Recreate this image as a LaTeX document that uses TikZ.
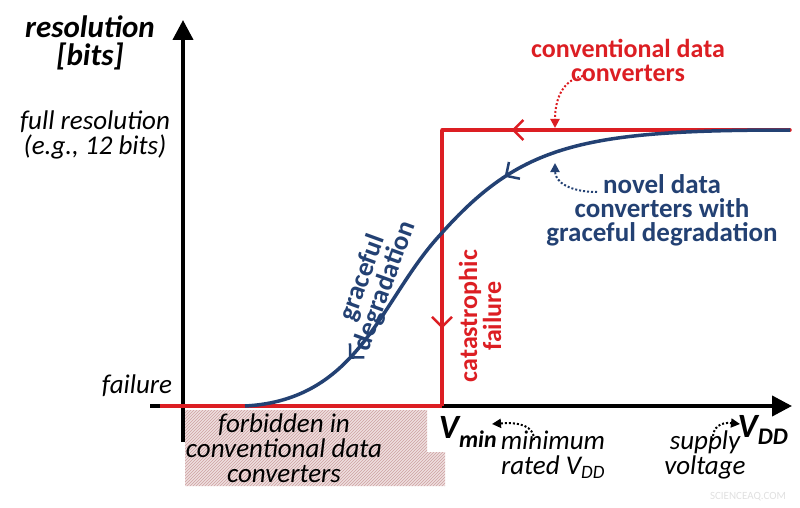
\documentclass[tikz,border=0pt]{standalone}
\usepackage{fontspec}
\setmainfont{Carlito}
\usetikzlibrary{arrows.meta,patterns,decorations.markings}
\definecolor{cred}{RGB}{220,30,35}
\definecolor{cblue}{RGB}{35,65,115}
\definecolor{hatch}{RGB}{205,160,160}
\tikzset{barb/.tip={Straight Barb[length=10pt,width=20pt,line width=2.5pt]}}
\begin{document}
\begin{tikzpicture}[x=1pt,y=-1pt,
  lbl/.style={align=center,inner sep=0pt,font=\fontsize{27}{25}\selectfont\itshape},
  redlbl/.style={align=center,inner sep=0pt,text=cred,font=\fontsize{26}{24}\selectfont\bfseries},
  bluelbl/.style={align=center,inner sep=0pt,text=cblue,font=\fontsize{27}{24}\selectfont\bfseries},
  axis/.style={line width=4pt,-{Triangle[length=20pt,width=20pt]}},
  dotarr/.style={dotted,line width=2pt,-{Triangle[length=9pt,width=9pt]}}]
\useasboundingbox (0,0) rectangle (800,508);
% hatched region
\fill[pattern color=hatch,pattern=north east lines] (185,410) -- (427,410) -- (427,452) -- (445,452) -- (445,486) -- (185,486) -- cycle;
\fill[hatch,opacity=0.35] (185,410) -- (427,410) -- (427,452) -- (445,452) -- (445,486) -- (185,486) -- cycle;
% axes
\coordinate (o1) at (183,442);
\coordinate (ytop) at (183,20);
\coordinate (xl) at (150,406);
\coordinate (xr) at (792,406);
\draw[axis] (o1) -- (ytop);
\draw[axis] (xl) -- (xr);
% red curve
\coordinate (r0) at (160,406);
\coordinate (r1) at (442,406);
\coordinate (r2) at (442,130);
\coordinate (r3) at (790,130);
\draw[cred,line width=3.5pt,line cap=round,postaction={decorate},decoration={markings,mark=at position 0.8 with {\arrow{barb}}}] (r3) -- (r2);
\draw[cred,line width=3.5pt,postaction={decorate},decoration={markings,mark=at position 0.72 with {\arrow{barb}}}] (r2) -- (r1);
\draw[cred,line width=3.5pt] (r1) -- (r0);
% blue curve
\coordinate (b0) at (790,130);
\coordinate (bm) at (440,235);
\coordinate (b1) at (245,406);
\draw[cblue,line width=3.5pt,postaction={decorate},decoration={markings,mark=at position 0.45 with {\arrow{barb}},mark=at position 0.82 with {\arrow{barb}}}] (b0) .. controls (580,130) and (520,145) .. (bm) .. controls (380,300) and (360,400) .. (b1);
% labels
\node[align=center,inner sep=0pt,font=\fontsize{31}{28}\selectfont\bfseries\itshape] (res) at (90,43) {resolution\\{[bits]}};
\node[lbl] (full) at (95,135) {full resolution\\(e.g., 12 bits)};
\node[lbl] (fail) at (137,386) {failure};
\node[redlbl] (conv) at (628,60) {conventional data\\converters};
\node[bluelbl] (novel) at (662,210) {novel data\\converters with\\graceful degradation};
\node[bluelbl,rotate=70] (grace) at (374,282) {graceful\\degradation};
\node[redlbl,rotate=90] (cat) at (480,316) {catastrophic\\failure};
\node[inner sep=0pt,font=\fontsize{34}{34}\selectfont\bfseries\itshape] (vmin) at (468,432) {V\textsubscript{min}};
\node[inner sep=0pt,font=\fontsize{34}{34}\selectfont\bfseries\itshape] (vdd) at (763,430) {V\textsubscript{DD}};
\node[lbl] (minr) at (553,455) {minimum\\rated V\textsubscript{DD}};
\node[lbl] (sup) at (705,455) {supply\\voltage};
\node[lbl] (forb) at (284,448) {forbidden in\\conventional data\\converters};
\node[text=black!12,font=\fontsize{11}{11}\selectfont] (wm) at (748,497) {SCIENCEAQ.COM};
% dotted pointers
\draw[dotarr,cred] (583,76) .. controls (562,80) and (555,100) .. (555,128);
\draw[dotarr,cblue] (597,192) .. controls (570,192) and (555,182) .. (555,163);
\draw[dotarr,black] (534,440) .. controls (534,426) and (520,422) .. (492,424);
\draw[dotarr,black] (713,440) .. controls (712,426) and (722,422) .. (740,424);
\end{tikzpicture}
\end{document}
